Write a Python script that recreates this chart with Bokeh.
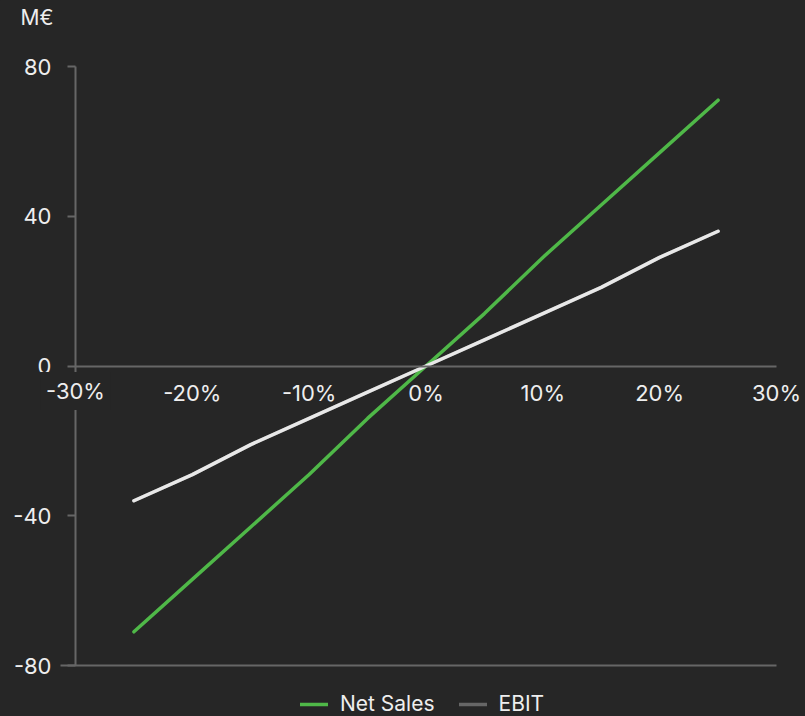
from bokeh.plotting import figure
from bokeh.models import (Range1d, LinearAxis, FixedTicker, Legend,
                          LegendItem, Label)
from bokeh.embed import file_html
from bokeh.resources import INLINE

# ---- data ----
change_pct = [-25, -20, -15, -10, -5, 0, 5, 10, 15, 20, 25]
net_sales = [-71, -57, -43, -29, -14, 0, 14, 29, 43, 57, 71]
ebit = [-36, -29, -21, -14, -7, 0, 7, 14, 21, 29, 36]
x_ticks = [-30, -20, -10, 0, 10, 20, 30]
x_tick_labels = ["-30%", "-20%", "-10%", "0%", "10%", "20%", "30%"]
y_ticks = [-80, -40, 0, 40, 80]
y_tick_labels = ["-80", "-40", "0", "40", "80"]
unit_label = "M€"
series_names = ["Net Sales", "EBIT"]

# ---- style / layout ----
W, H = 805, 716
PL, PR, PT, PB = 75, 776, 66, 665      # plot-area box in pixels
BG = "#262626"
AX = "#666666"
TXT = "#eeeeee"
GREEN = "#4fb848"
LIGHT = "#e8e8e8"
FONT = "Inter"
FS = "22px"

x_lo, x_hi = x_ticks[0], x_ticks[-1]
y_lo, y_hi = y_ticks[0], y_ticks[-1]
pux = (PR - PL) / (x_hi - x_lo)
puy = (PB - PT) / (y_hi - y_lo)
x_range = Range1d(x_lo - PL / pux, x_hi + (W - PR) / pux)
y_range = Range1d(y_lo - (H - PB) / puy, y_hi + PT / puy)

p = figure(width=W, height=H, output_backend="svg", toolbar_location=None,
           x_range=x_range, y_range=y_range,
           x_axis_location=None, y_axis_location=None,
           background_fill_color=BG, border_fill_color=BG,
           outline_line_color=None,
           min_border_left=0, min_border_right=0,
           min_border_top=0, min_border_bottom=0)
p.grid.visible = False

# y axis
yaxis = LinearAxis(ticker=FixedTicker(ticks=y_ticks), fixed_location=x_lo,
                   bounds=(y_lo, y_hi))
yaxis.axis_line_color = AX
yaxis.axis_line_width = 2
yaxis.major_tick_line_color = AX
yaxis.major_tick_line_width = 2
yaxis.major_tick_out = 8
yaxis.major_tick_in = 0
yaxis.minor_tick_line_color = None
yaxis.major_label_standoff = 16
yaxis.major_label_text_font = FONT
yaxis.major_label_text_font_size = FS
yaxis.major_label_text_color = TXT
yaxis.major_label_overrides = {t: l for t, l in zip(y_ticks, y_tick_labels)}
p.add_layout(yaxis, "left")

# bottom line of the plot area
baxis = LinearAxis(ticker=FixedTicker(ticks=[]), fixed_location=y_lo,
                   bounds=(x_lo - 15 / pux, x_hi))
baxis.axis_line_color = AX
baxis.axis_line_width = 2
baxis.major_tick_line_color = None
baxis.minor_tick_line_color = None
baxis.major_label_text_font_size = "0px"
p.add_layout(baxis, "below")

# x axis crossing at zero
xaxis = LinearAxis(ticker=FixedTicker(ticks=x_ticks), fixed_location=0,
                   bounds=(x_lo, x_hi))
xaxis.axis_line_color = AX
xaxis.axis_line_width = 2
xaxis.major_tick_line_color = None
xaxis.minor_tick_line_color = None
xaxis.major_label_standoff = 8
xaxis.major_label_text_font = FONT
xaxis.major_label_text_font_size = FS
xaxis.major_label_text_color = TXT
overrides = {t: l for t, l in zip(x_ticks, x_tick_labels)}
overrides[x_ticks[0]] = ""
xaxis.major_label_overrides = overrides
p.add_layout(xaxis, "below")

# first x label with a background box (covers the y axis like the original)
p.add_layout(Label(x=x_ticks[0], y=0, text=x_tick_labels[0], y_offset=-6,
                   text_align="center", text_baseline="top",
                   text_font=FONT, text_font_size=FS, text_color=TXT,
                   background_fill_color=BG, padding=6))

# lines (the grey EBIT legend key sits under the light EBIT line)
r_ebit_key = p.line(change_pct, ebit, line_color=AX, line_width=3.5,
                    line_cap="round", line_join="round")
r_net = p.line(change_pct, net_sales, line_color=GREEN, line_width=3.5,
               line_cap="round", line_join="round")
r_ebit = p.line(change_pct, ebit, line_color=LIGHT, line_width=3.5,
                line_cap="round", line_join="round")

legend = Legend(items=[LegendItem(label=series_names[0], renderers=[r_net]),
                       LegendItem(label=series_names[1], renderers=[r_ebit_key])],
                orientation="horizontal", location=(300, 0),
                background_fill_alpha=0, border_line_color=None,
                label_text_font=FONT, label_text_font_size="21px",
                label_text_color=TXT, glyph_width=28, glyph_height=20,
                label_height=20, label_standoff=12, spacing=24,
                padding=3, margin=0)
p.add_layout(legend, "center")

# unit label
p.add_layout(Label(x=20, y=H - 17, x_units="screen", y_units="screen",
                   text=unit_label, text_baseline="middle", text_align="left",
                   text_font=FONT, text_font_size="21px", text_color=TXT))

html = file_html(p, INLINE)
html = html.replace("<head>", "<head><style>html,body{margin:0;padding:0;background:%s;}</style>" % BG, 1)
open("out.html", "w").write(html)
